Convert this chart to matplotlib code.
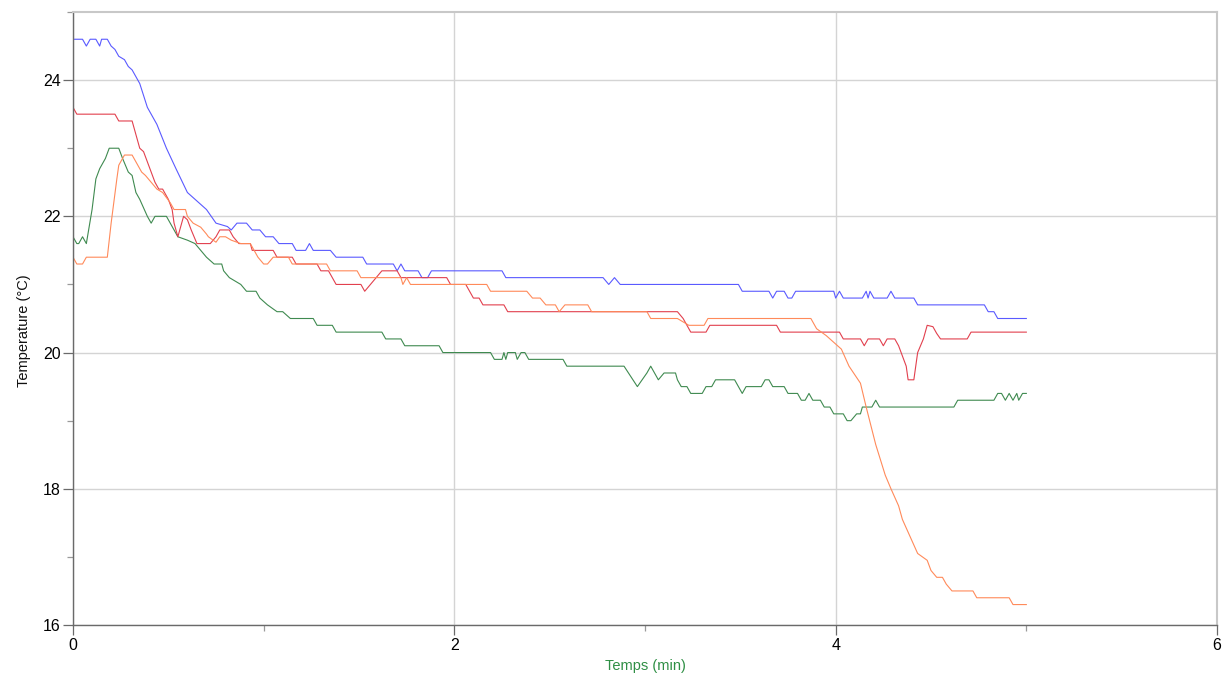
import matplotlib
matplotlib.use("Agg")
import matplotlib.pyplot as plt  # noqa: E402
from matplotlib.ticker import MultipleLocator  # noqa: E402

plt.rcParams["font.family"] = ["Liberation Sans", "DejaVu Sans"]

# breakpoints: time (min), temperature (degC)
blue_t = [0.00, 0.05, 0.07, 0.09, 0.12, 0.14, 0.15, 0.18, 0.20, 0.22, 0.24, 0.27,
          0.29, 0.31, 0.35, 0.39, 0.44, 0.49, 0.54, 0.60, 0.64, 0.70, 0.75, 0.81,
          0.83, 0.86, 0.91, 0.94, 0.98, 1.01, 1.05, 1.08, 1.15, 1.17, 1.22, 1.24,
          1.26, 1.35, 1.38, 1.52, 1.54, 1.68, 1.70, 1.72, 1.74, 1.81, 1.83, 1.86,
          1.88, 2.25, 2.27, 2.78, 2.81, 2.84, 2.87, 3.49, 3.51, 3.65, 3.67, 3.69,
          3.73, 3.75, 3.77, 3.79, 3.99, 4.00, 4.02, 4.04, 4.14, 4.16, 4.17, 4.18,
          4.20, 4.27, 4.29, 4.31, 4.41, 4.43, 4.78, 4.80, 4.83, 4.85, 5.00]
blue_T = [24.6, 24.6, 24.5, 24.6, 24.6, 24.5, 24.6, 24.6, 24.5, 24.45, 24.35, 24.3,
          24.2, 24.15, 23.95, 23.6, 23.35, 23.0, 22.7, 22.35, 22.25, 22.1, 21.9, 21.85,
          21.8, 21.9, 21.9, 21.8, 21.8, 21.7, 21.7, 21.6, 21.6, 21.5, 21.5, 21.6,
          21.5, 21.5, 21.4, 21.4, 21.3, 21.3, 21.2, 21.3, 21.2, 21.2, 21.1, 21.1,
          21.2, 21.2, 21.1, 21.1, 21.0, 21.1, 21.0, 21.0, 20.9, 20.9, 20.8, 20.9,
          20.9, 20.8, 20.8, 20.9, 20.9, 20.8, 20.9, 20.8, 20.8, 20.9, 20.8, 20.9,
          20.8, 20.8, 20.9, 20.8, 20.8, 20.7, 20.7, 20.6, 20.6, 20.5, 20.5]

red_t = [0.00, 0.02, 0.22, 0.24, 0.31, 0.35, 0.37, 0.39, 0.41, 0.43, 0.45, 0.47,
         0.50, 0.52, 0.53, 0.55, 0.58, 0.60, 0.62, 0.65, 0.72, 0.75, 0.77, 0.82,
         0.84, 0.87, 0.93, 0.94, 1.05, 1.07, 1.15, 1.17, 1.28, 1.30, 1.34, 1.36,
         1.38, 1.51, 1.53, 1.56, 1.59, 1.62, 1.70, 1.72, 1.96, 1.98, 2.06, 2.08,
         2.10, 2.13, 2.15, 2.26, 2.28, 3.17, 3.20, 3.24, 3.32, 3.34, 3.69, 3.71,
         4.02, 4.04, 4.13, 4.15, 4.17, 4.23, 4.25, 4.27, 4.31, 4.33, 4.35, 4.37,
         4.38, 4.41, 4.43, 4.46, 4.48, 4.51, 4.53, 4.55, 4.69, 4.71, 5.00]
red_T = [23.6, 23.5, 23.5, 23.4, 23.4, 23.0, 22.95, 22.8, 22.65, 22.5, 22.4, 22.4,
         22.25, 22.1, 21.9, 21.7, 22.0, 21.95, 21.8, 21.6, 21.6, 21.7, 21.8, 21.8,
         21.7, 21.6, 21.6, 21.5, 21.5, 21.4, 21.4, 21.3, 21.3, 21.2, 21.2, 21.1,
         21.0, 21.0, 20.9, 21.0, 21.1, 21.2, 21.2, 21.1, 21.1, 21.0, 21.0, 20.9,
         20.8, 20.8, 20.7, 20.7, 20.6, 20.6, 20.5, 20.3, 20.3, 20.4, 20.4, 20.3,
         20.3, 20.2, 20.2, 20.1, 20.2, 20.2, 20.1, 20.2, 20.2, 20.1, 19.95, 19.8,
         19.6, 19.6, 20.0, 20.2, 20.4, 20.38, 20.28, 20.2, 20.2, 20.3, 20.3]

orange_t = [0.00, 0.02, 0.05, 0.07, 0.18, 0.20, 0.23, 0.24, 0.27, 0.31, 0.33, 0.36,
            0.38, 0.41, 0.44, 0.47, 0.51, 0.53, 0.59, 0.60, 0.63, 0.67, 0.70, 0.71,
            0.75, 0.77, 0.80, 0.83, 0.88, 0.93, 0.95, 0.97, 1.00, 1.02, 1.05, 1.13,
            1.15, 1.33, 1.35, 1.49, 1.51, 1.72, 1.73, 1.75, 1.77, 2.17, 2.19, 2.38,
            2.41, 2.45, 2.48, 2.53, 2.55, 2.58, 2.70, 2.72, 3.01, 3.03, 3.17, 3.20,
            3.23, 3.31, 3.33, 3.87, 3.90, 3.95, 3.99, 4.03, 4.07, 4.13, 4.16, 4.21,
            4.26, 4.29, 4.33, 4.35, 4.39, 4.43, 4.48, 4.50, 4.53, 4.56, 4.58, 4.61,
            4.72, 4.74, 4.91, 4.93, 5.00]
orange_T = [21.4, 21.3, 21.3, 21.4, 21.4, 21.9, 22.55, 22.75, 22.9, 22.9, 22.8, 22.65,
            22.6, 22.5, 22.4, 22.35, 22.2, 22.1, 22.1, 22.0, 21.9, 21.84, 21.74, 21.7,
            21.62, 21.7, 21.7, 21.65, 21.6, 21.6, 21.5, 21.4, 21.3, 21.3, 21.4, 21.4,
            21.3, 21.3, 21.2, 21.2, 21.1, 21.1, 21.0, 21.1, 21.0, 21.0, 20.9, 20.9,
            20.8, 20.8, 20.7, 20.7, 20.6, 20.7, 20.7, 20.6, 20.6, 20.5, 20.5, 20.45,
            20.4, 20.4, 20.5, 20.5, 20.35, 20.25, 20.15, 20.05, 19.8, 19.55, 19.2, 18.65,
            18.2, 18.0, 17.75, 17.55, 17.3, 17.05, 16.95, 16.8, 16.7, 16.7, 16.6, 16.5,
            16.5, 16.4, 16.4, 16.3, 16.3]

green_t = [0.00, 0.02, 0.03, 0.05, 0.07, 0.10, 0.12, 0.14, 0.17, 0.19, 0.24, 0.26,
           0.29, 0.31, 0.33, 0.35, 0.39, 0.41, 0.43, 0.49, 0.51, 0.55, 0.60, 0.64,
           0.67, 0.70, 0.74, 0.78, 0.79, 0.82, 0.88, 0.91, 0.96, 0.98, 1.02, 1.07,
           1.10, 1.14, 1.26, 1.28, 1.36, 1.38, 1.62, 1.64, 1.72, 1.74, 1.92, 1.94,
           2.19, 2.21, 2.25, 2.26, 2.27, 2.28, 2.32, 2.33, 2.35, 2.37, 2.39, 2.57,
           2.59, 2.89, 2.96, 3.01, 3.03, 3.07, 3.10, 3.16, 3.17, 3.19, 3.22, 3.24,
           3.30, 3.32, 3.35, 3.37, 3.47, 3.51, 3.53, 3.61, 3.63, 3.65, 3.67, 3.73,
           3.75, 3.80, 3.82, 3.84, 3.86, 3.88, 3.92, 3.94, 3.97, 3.99, 4.04, 4.06,
           4.08, 4.11, 4.13, 4.14, 4.19, 4.21, 4.23, 4.62, 4.64, 4.83, 4.85, 4.87,
           4.89, 4.91, 4.93, 4.95, 4.96, 4.98, 5.00]
green_T = [21.7, 21.6, 21.6, 21.7, 21.6, 22.1, 22.55, 22.7, 22.85, 23.0, 23.0, 22.85,
           22.65, 22.6, 22.35, 22.25, 22.0, 21.9, 22.0, 22.0, 21.9, 21.7, 21.65, 21.6,
           21.5, 21.4, 21.3, 21.3, 21.2, 21.1, 21.0, 20.9, 20.9, 20.8, 20.7, 20.6,
           20.6, 20.5, 20.5, 20.4, 20.4, 20.3, 20.3, 20.2, 20.2, 20.1, 20.1, 20.0,
           20.0, 19.9, 19.9, 20.0, 19.9, 20.0, 20.0, 19.9, 20.0, 20.0, 19.9, 19.9,
           19.8, 19.8, 19.5, 19.7, 19.8, 19.6, 19.7, 19.7, 19.6, 19.5, 19.5, 19.4,
           19.4, 19.5, 19.5, 19.6, 19.6, 19.4, 19.5, 19.5, 19.6, 19.6, 19.5, 19.5,
           19.4, 19.4, 19.3, 19.3, 19.4, 19.3, 19.3, 19.2, 19.2, 19.1, 19.1, 19.0,
           19.0, 19.1, 19.1, 19.2, 19.2, 19.3, 19.2, 19.2, 19.3, 19.3, 19.4, 19.4,
           19.3, 19.4, 19.3, 19.4, 19.3, 19.4, 19.4]

series = [
    (blue_t, blue_T, "#5a5aff"),
    (green_t, green_T, "#3f8a50"),
    (red_t, red_T, "#e2404e"),
    (orange_t, orange_T, "#ff8a5a"),
]

fig = plt.figure(figsize=(12.3, 6.75), dpi=100)
ax = fig.add_axes([73 / 1230, 1 - 625 / 675, (1217 - 73) / 1230, (625 - 12) / 675])

for t, temp, col in series:
    ax.plot(t, temp, color=col, lw=0.8)

ax.set_xlim(0, 6)
ax.set_ylim(16, 25)
ax.xaxis.set_major_locator(MultipleLocator(2))
ax.xaxis.set_minor_locator(MultipleLocator(1))
ax.yaxis.set_major_locator(MultipleLocator(2))
ax.yaxis.set_minor_locator(MultipleLocator(1))
ax.grid(True, which="major", color="#d4d4d4", lw=1.0)
ax.set_axisbelow(True)

for side in ("left", "bottom"):
    ax.spines[side].set_color("#6a6a6a")
    ax.spines[side].set_linewidth(1.0)
for side in ("top", "right"):
    ax.spines[side].set_color("#c8c8c8")
    ax.spines[side].set_linewidth(1.5)

ax.tick_params(which="major", direction="out", length=7, width=0.9,
               color="#6a6a6a", labelsize=11.5, pad=2)
ax.tick_params(which="minor", direction="out", length=4, width=0.9,
               color="#9a9a9a")
ax.tick_params(axis="y", which="major", pad=2)

ax.set_xlabel("Temps (min)", fontsize=10.5, color="#2f8f45", labelpad=5)
ax.set_ylabel("Temperature (°C)", fontsize=10.5, color="#111111")
ax.yaxis.set_label_coords(-0.037, 0.48)

fig.savefig("out.png", dpi=100, facecolor="white")
